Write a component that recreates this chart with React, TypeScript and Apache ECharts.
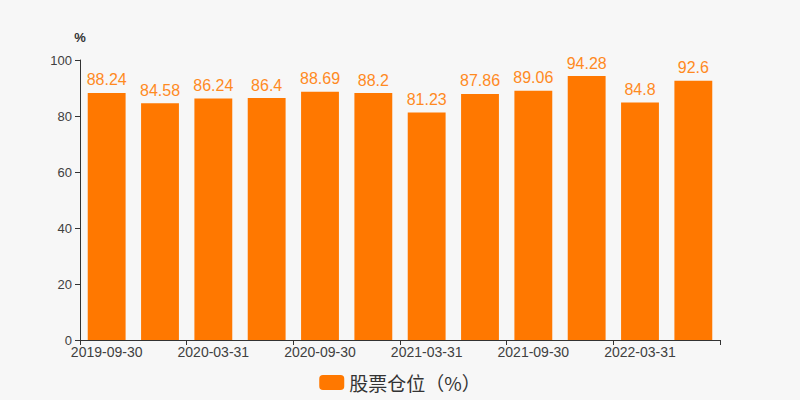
import React, { useEffect, useRef } from "react";
import * as echarts from "echarts";

const categories = [
  "2019-09-30", "2019-12-31", "2020-03-31", "2020-06-30",
  "2020-09-30", "2020-12-31", "2021-03-31", "2021-06-30",
  "2021-09-30", "2021-12-31", "2022-03-31", "2022-06-30",
];
const values = [88.24, 84.58, 86.24, 86.4, 88.69, 88.2, 81.23, 87.86, 89.06, 94.28, 84.8, 92.6];
const seriesName = "股票仓位（%）";

export default function App() {
  const ref = useRef<HTMLDivElement>(null);
  useEffect(() => {
    const chart = echarts.init(ref.current!, null, { renderer: "svg" });
    chart.setOption({
      animation: false,
      backgroundColor: "#f7f7f7",
      textStyle: { fontFamily: "Liberation Sans, Arial, sans-serif" },
      grid: { left: 80, right: 80, top: 60, bottom: 60 },
      legend: {
        bottom: 3,
        left: "center",
        itemWidth: 25,
        itemHeight: 15,
        icon: "roundRect",
        textStyle: { fontSize: 19, color: "#333", fontFamily: "Noto Sans CJK SC, sans-serif" },
        data: [seriesName],
      },
      xAxis: {
        type: "category",
        data: categories,
        boundaryGap: true,
        axisLine: { lineStyle: { color: "#333" } },
        axisTick: { show: true, interval: 1, lineStyle: { color: "#333" } },
        axisLabel: { interval: 1, color: "#404040", fontSize: 14, margin: 5 },
      },
      yAxis: {
        type: "value",
        name: "%",
        min: 0,
        max: 100,
        interval: 20,
        nameGap: 16,
        nameTextStyle: { color: "#333", fontSize: 13, fontWeight: "bold", align: "center" },
        axisLine: { show: true, lineStyle: { color: "#333" } },
        axisTick: { show: true, lineStyle: { color: "#333" } },
        axisLabel: { color: "#404040", fontSize: 13, margin: 8 },
        splitLine: { show: false },
      },
      series: [
        {
          name: seriesName,
          type: "bar",
          data: values,
          barWidth: "71%",
          itemStyle: { color: "#ff7800" },
          label: {
            show: true,
            position: "top",
            color: "#ff8a1f",
            fontSize: 16,
            distance: 5,
          },
        },
      ],
    });
    return () => chart.dispose();
  }, []);
  return <div ref={ref} style={{ width: 800, height: 400, position: "absolute", left: 0, top: 0 }} />;
}
